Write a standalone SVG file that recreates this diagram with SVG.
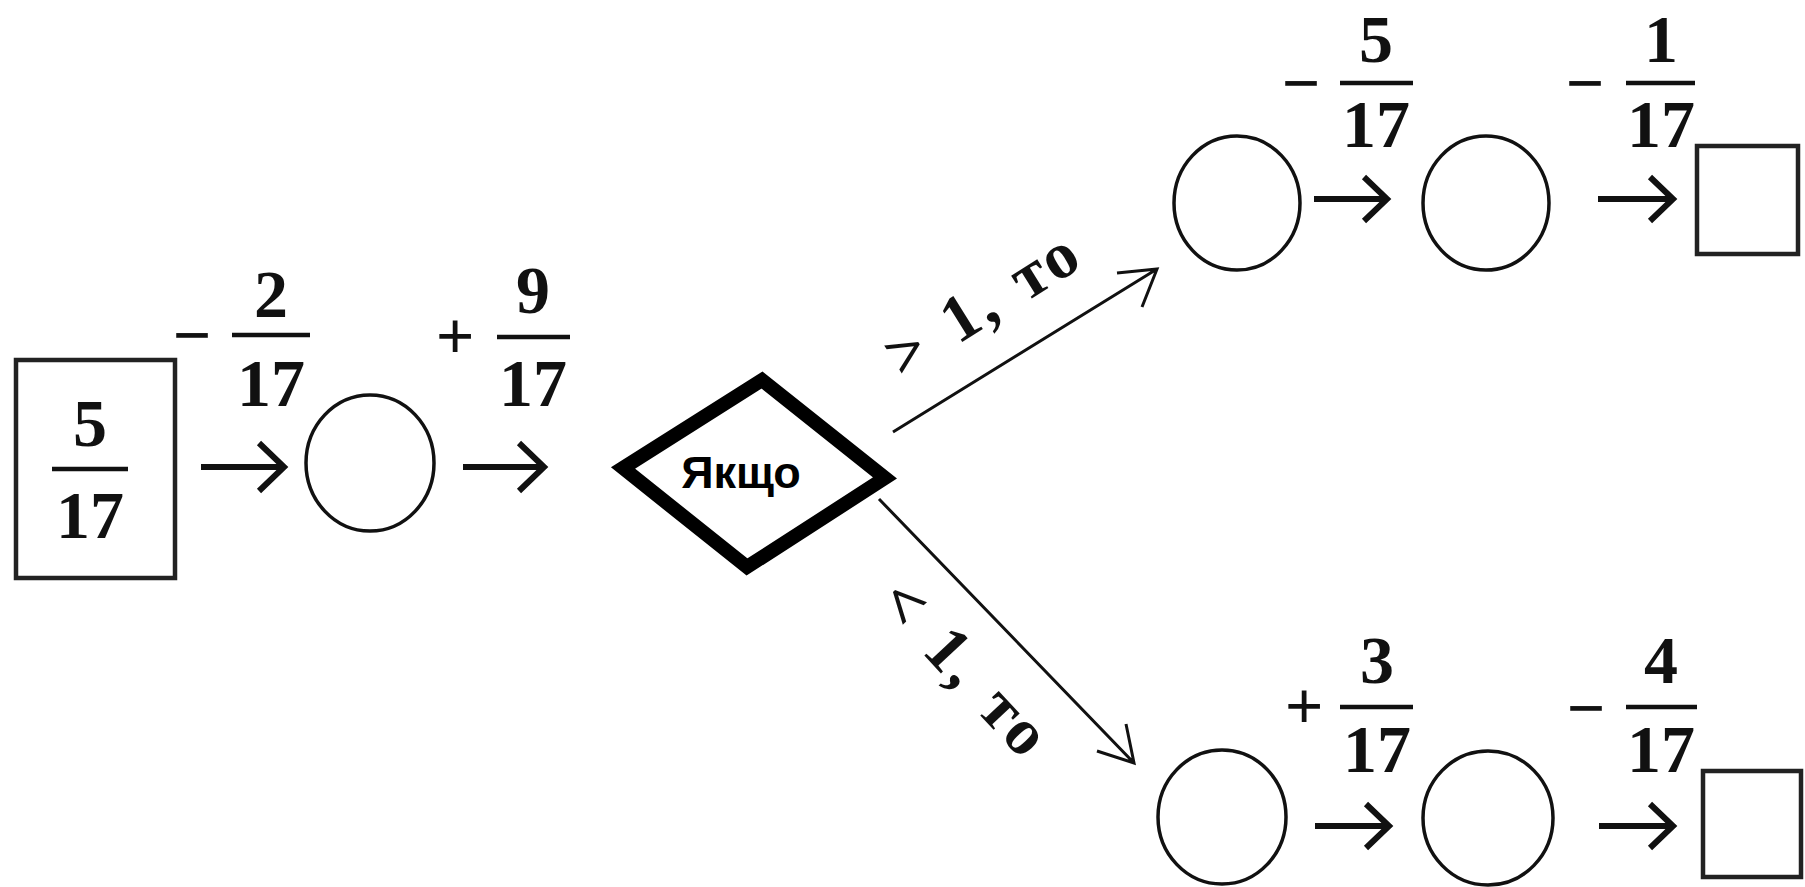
<svg xmlns="http://www.w3.org/2000/svg" width="1805" height="887" viewBox="0 0 1805 887">
<style>
.bg{fill:#ffffff}
.shape{fill:none;stroke:#111;stroke-width:3.5}
.box{fill:none;stroke:#222;stroke-width:4.5}
.num{font-family:"Liberation Serif",serif;font-weight:bold;font-size:68px;fill:#111;text-anchor:middle}
.bar{stroke:#111;stroke-width:4.5}
.arrow{fill:none;stroke:#111;stroke-width:6;stroke-linejoin:miter}
.conn{fill:none;stroke:#111;stroke-width:3}
.lbl{font-family:"Liberation Serif",serif;font-weight:bold;font-size:66px;fill:#111;text-anchor:middle;letter-spacing:3px;word-spacing:6px}
.dia{fill:#fff;stroke:#000;stroke-width:14;stroke-linejoin:miter}
.dtext{font-family:"Liberation Sans",Arial,sans-serif;font-weight:bold;font-size:45px;fill:#000;text-anchor:middle}
</style>
<rect class="bg" x="0" y="0" width="1805" height="887"/>

<g id="start">
  <rect class="box" x="16" y="360" width="159" height="218"/>
  <text class="num" x="90" y="446">5</text>
  <line class="bar" x1="52" y1="469" x2="128" y2="469"/>
  <text class="num" x="90" y="538">17</text>
</g>

<g id="op1">
  <text class="num" x="192" y="358">−</text>
  <text class="num" x="271" y="317">2</text>
  <line class="bar" x1="232" y1="335" x2="310" y2="335"/>
  <text class="num" x="271" y="406">17</text>
</g>

<g id="circle1"><ellipse class="shape" cx="370" cy="463" rx="64" ry="68"/></g>

<g id="op2">
  <text class="num" x="455" y="359">+</text>
  <text class="num" x="533" y="313">9</text>
  <line class="bar" x1="497" y1="337" x2="570" y2="337"/>
  <text class="num" x="533" y="406">17</text>
</g>

<g id="decision">
  <polygon class="dia" points="623,468 762,380 885,478 747,567"/>
  <text class="dtext" x="741" y="488">Якщо</text>
</g>

<g id="circle2"><ellipse class="shape" cx="1237" cy="203" rx="63" ry="67"/></g>
<g id="op3">
  <text class="num" x="1301" y="106">−</text>
  <text class="num" x="1376" y="62">5</text>
  <line class="bar" x1="1340" y1="83" x2="1413" y2="83"/>
  <text class="num" x="1376" y="147">17</text>
</g>
<g id="circle3"><ellipse class="shape" cx="1486" cy="203" rx="63" ry="67"/></g>
<g id="op4">
  <text class="num" x="1585" y="106">−</text>
  <text class="num" x="1661" y="62">1</text>
  <line class="bar" x1="1626" y1="83" x2="1695" y2="83"/>
  <text class="num" x="1661" y="147">17</text>
</g>
<g id="result1"><rect class="box" x="1697" y="146" width="101" height="108"/></g>

<g id="circle4"><ellipse class="shape" cx="1222" cy="817" rx="64" ry="67"/></g>
<g id="op5">
  <text class="num" x="1304" y="729">+</text>
  <text class="num" x="1377" y="683">3</text>
  <line class="bar" x1="1340" y1="707" x2="1413" y2="707"/>
  <text class="num" x="1377" y="772">17</text>
</g>
<g id="circle5"><ellipse class="shape" cx="1488" cy="818" rx="65" ry="67"/></g>
<g id="op6">
  <text class="num" x="1586" y="731">−</text>
  <text class="num" x="1661" y="683">4</text>
  <line class="bar" x1="1626" y1="707" x2="1697" y2="707"/>
  <text class="num" x="1661" y="772">17</text>
</g>
<g id="result2"><rect class="box" x="1703" y="771" width="98" height="106"/></g>

<g id="connectors">
  <path class="arrow" d="M201,467 H284 M259,443 L284,467 L259,491"/>
  <path class="arrow" d="M463,467 H544 M519,443 L544,467 L519,491"/>
  <path class="arrow" d="M1314,199 H1387 M1364,177 L1387,199 L1364,221"/>
  <path class="arrow" d="M1598,199 H1673 M1650,177 L1673,199 L1650,221"/>
  <path class="arrow" d="M1315,826 H1389 M1366,804 L1389,826 L1366,848"/>
  <path class="arrow" d="M1599,826 H1673 M1650,804 L1673,826 L1650,848"/>
  <path class="conn" d="M893,432 L1157,269 M1117,273 L1157,269 L1142,307"/>
  <path class="conn" d="M879,499 L1134,763 M1097,751 L1134,763 L1126,724"/>
  <text class="lbl" transform="translate(994,322) rotate(-32)">&gt; 1, то</text>
  <text class="lbl" transform="translate(950,683) rotate(47)">&lt; 1, то</text>
</g>
</svg>
